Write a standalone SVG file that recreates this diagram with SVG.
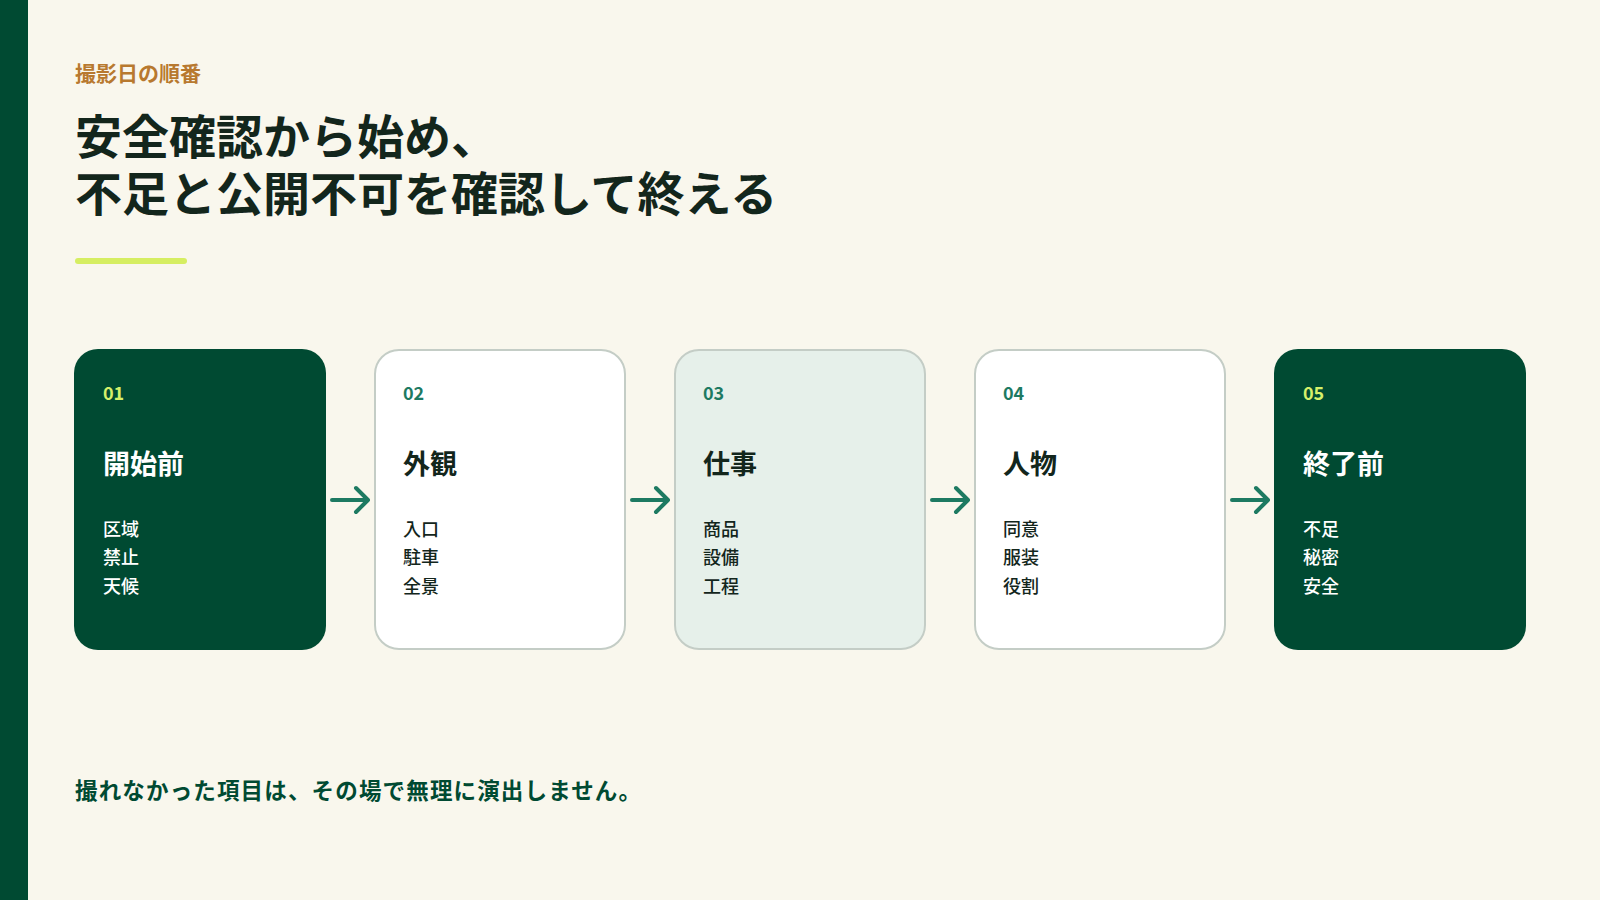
<svg xmlns="http://www.w3.org/2000/svg" width="1600" height="900" viewBox="0 0 1600 900">
<defs>
<style>
text{font-family:"Noto Sans CJK JP","Noto Sans",sans-serif}
.num{font-size:18px;font-weight:700}
.hd{font-size:27px;font-weight:700}
.it{font-size:18px;font-weight:500}
.dark rect{fill:#004a32}
.dark .num{fill:#d6f06a}
.dark .hd,.dark .it{fill:#ffffff}
.light rect{fill:#ffffff;stroke:#c4cdc6;stroke-width:2}
.mint rect{fill:#e6f0ea;stroke:#c4cdc6;stroke-width:2}
.light .num,.mint .num{fill:#1d7a62}
.light .hd,.mint .hd,.light .it,.mint .it{fill:#13261c}
.arr{fill:none;stroke:#1d7a62;stroke-width:4;stroke-linecap:round;stroke-linejoin:round}
</style>
</defs>
<rect width="1600" height="900" fill="#f9f7ed"/>
<rect width="28" height="900" fill="#004a32"/>
<text x="75" y="81" font-size="21" font-weight="700" fill="#b8792f">撮影日の順番</text>
<text x="75" y="154" font-size="47" font-weight="700" fill="#13261c">安全確認から始め、</text>
<text x="75" y="211" font-size="47" font-weight="700" fill="#13261c">不足と公開不可を確認して終える</text>
<rect x="75" y="258" width="112" height="6" rx="3" fill="#d6ee62"/>
<g id="node1" class="dark"><rect x="74" y="349" width="252" height="301" rx="24"/><text class="num" x="103" y="400">01</text><text class="hd" x="103" y="474">開始前</text><text class="it" x="103" y="536">区域</text><text class="it" x="103" y="564">禁止</text><text class="it" x="103" y="593">天候</text></g>
<g id="node2" class="light"><rect x="375" y="350" width="250" height="299" rx="24"/><text class="num" x="403" y="400">02</text><text class="hd" x="403" y="474">外観</text><text class="it" x="403" y="536">入口</text><text class="it" x="403" y="564">駐車</text><text class="it" x="403" y="593">全景</text></g>
<g id="node3" class="mint"><rect x="675" y="350" width="250" height="299" rx="24"/><text class="num" x="703" y="400">03</text><text class="hd" x="703" y="474">仕事</text><text class="it" x="703" y="536">商品</text><text class="it" x="703" y="564">設備</text><text class="it" x="703" y="593">工程</text></g>
<g id="node4" class="light"><rect x="975" y="350" width="250" height="299" rx="24"/><text class="num" x="1003" y="400">04</text><text class="hd" x="1003" y="474">人物</text><text class="it" x="1003" y="536">同意</text><text class="it" x="1003" y="564">服装</text><text class="it" x="1003" y="593">役割</text></g>
<g id="node5" class="dark"><rect x="1274" y="349" width="252" height="301" rx="24"/><text class="num" x="1303" y="400">05</text><text class="hd" x="1303" y="474">終了前</text><text class="it" x="1303" y="536">不足</text><text class="it" x="1303" y="564">秘密</text><text class="it" x="1303" y="593">安全</text></g>
<g id="connectors">
<path class="arr" d="M332 500H368M356 488L368 500L356 512"/>
<path class="arr" d="M632 500H668M656 488L668 500L656 512"/>
<path class="arr" d="M932 500H968M956 488L968 500L956 512"/>
<path class="arr" d="M1232 500H1268M1256 488L1268 500L1256 512"/>
</g>
<text x="75" y="799" font-size="22.5" font-weight="700" fill="#004a32" textLength="566">撮れなかった項目は、その場で無理に演出しません。</text>
</svg>
